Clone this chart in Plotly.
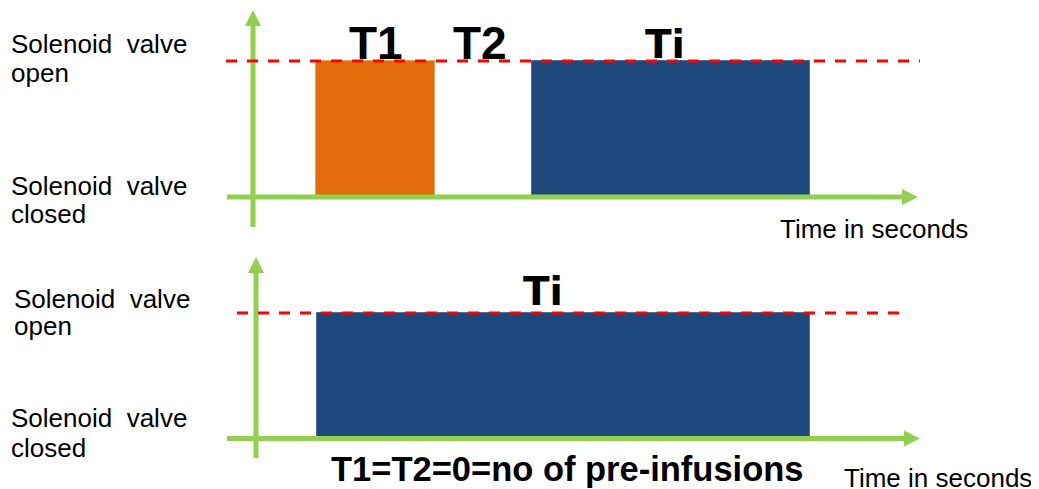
import plotly.graph_objects as go

# The page body adds an 8 px margin; positions below are given in window pixels
OFF = 8
WIN_W, WIN_H = 1039, 489
W, H = WIN_W - OFF, WIN_H - OFF

# ---------------- data (time in seconds, valve state: 0 = closed, 1 = open) ----------------
states = [0, 1]
state_labels = ["Solenoid\u00a0 valve", "closed", "open"]

# upper diagram: pre-infusion T1, pause T2, infusion Ti
top_T1 = [1.575, 4.55]
top_Ti = [6.975, 13.925]
top_time_axis = [-0.65, 16.625]
top_state_axis = [-0.22, 1.375]
top_open_ref = [-0.675, 16.675]

# lower diagram: no pre-infusion, only Ti
bot_Ti = [1.525, 13.85]
bot_time_axis = [-0.725, 16.6]
bot_state_axis = [-0.155, 1.446]
bot_open_ref = [-0.475, 16.325]

labels_top = ["T1", "T2", "Ti"]
label_bottom = "Ti"
note_bottom = "T1=T2=0=no of pre-infusions"
time_title = "Time in seconds"

# ---------------- styling ----------------
GREEN = "#92D050"
RED = "#FF0000"
ORANGE = "#E36C0A"
BLUE = "#1F497D"
FONT = "Liberation Sans, Arial, sans-serif"
FONT_TI = "DejaVu Sans, Verdana, sans-serif"

PX_PER_S = 40.0
TOP_PX_Y = 136.0
BOT_PX_Y = 125.5
# window-pixel location of each diagram's origin
top_org = (253 - OFF, 197 - OFF)
bot_org = (256 - OFF, 438.5 - OFF)

top_range_x = [-top_org[0] / PX_PER_S, (W - top_org[0]) / PX_PER_S]
bot_range_x = [-bot_org[0] / PX_PER_S, (W - bot_org[0]) / PX_PER_S]
top_range_y = [-(H - top_org[1]) / TOP_PX_Y, top_org[1] / TOP_PX_Y]
bot_range_y = [-(H - bot_org[1]) / BOT_PX_Y, bot_org[1] / BOT_PX_Y]

fig = go.Figure()


def add_panel(xa, ya, bars, colors, time_axis, state_axis, open_ref, px_x, px_y):
    # valve-open periods as bars
    for (s, e), c in zip(bars, colors):
        fig.add_trace(go.Bar(
            x=[(s + e) / 2], y=[states[1]], width=[e - s], base=[states[0]],
            marker=dict(color=c, line=dict(color="#4F6F98" if c == BLUE else "#F0A060", width=1)),
            xaxis=xa, yaxis=ya, showlegend=False, hoverinfo="skip"))
    # axes (green arrows)
    head = 16
    fig.add_trace(go.Scatter(
        x=[time_axis[0], time_axis[1] - head * 0.8 / px_x], y=[states[0], states[0]],
        mode="lines", line=dict(color=GREEN, width=5), xaxis=xa, yaxis=ya,
        showlegend=False, hoverinfo="skip"))
    fig.add_trace(go.Scatter(
        x=[0, 0], y=[state_axis[0], state_axis[1] - head * 0.8 / px_y],
        mode="lines", line=dict(color=GREEN, width=5), xaxis=xa, yaxis=ya,
        showlegend=False, hoverinfo="skip"))
    fig.add_trace(go.Scatter(
        x=[time_axis[1]], y=[states[0]], mode="markers",
        marker=dict(symbol="arrow-right", size=head, color=GREEN, line=dict(width=0)),
        xaxis=xa, yaxis=ya, showlegend=False, hoverinfo="skip"))
    fig.add_trace(go.Scatter(
        x=[0], y=[state_axis[1]], mode="markers",
        marker=dict(symbol="arrow-up", size=head, color=GREEN, line=dict(width=0)),
        xaxis=xa, yaxis=ya, showlegend=False, hoverinfo="skip"))
    # open reference (red dashed)
    fig.add_trace(go.Scatter(
        x=open_ref, y=[states[1], states[1]], mode="lines",
        line=dict(color=RED, width=3, dash="11px,10px"),
        xaxis=xa, yaxis=ya, showlegend=False, hoverinfo="skip"))


add_panel("x", "y", [top_T1, top_Ti], [ORANGE, BLUE], top_time_axis, top_state_axis,
          top_open_ref, PX_PER_S, TOP_PX_Y)
add_panel("x2", "y2", [bot_Ti], [BLUE], bot_time_axis, bot_state_axis,
          bot_open_ref, PX_PER_S, BOT_PX_Y)


def py(p):
    return 1 - (p - OFF) / H


def px(p):
    return (p - OFF) / W


ann = []


def txt(text, x, y, size, xanchor="left", bold=False, font=FONT, xref="paper"):
    ann.append(dict(text=f"<b>{text}</b>" if bold else text, x=x, y=py(y), xref=xref, yref="paper",
                    xanchor=xanchor, yanchor="middle", showarrow=False,
                    font=dict(family=font, size=size, color="#000000")))


LS = 26
# left-hand state labels
txt(state_labels[0], px(9), 44.3, LS)
txt(state_labels[2], px(9), 73.3, LS)
txt(state_labels[0], px(9), 186, LS)
txt(state_labels[1], px(9), 214, LS)
txt(state_labels[0], px(12), 299, LS)
txt(state_labels[2], px(12), 326, LS)
txt(state_labels[0], px(9), 418, LS)
txt(state_labels[1], px(9), 448, LS)

# time titles
txt(time_title, px(778), 229, LS)
txt(time_title, px(842), 478, LS)

# period labels
txt(labels_top[0], (top_T1[0] + top_T1[1]) / 2, 43, 46, "center", True, xref="x")
txt(labels_top[1], (top_T1[1] + top_Ti[0]) / 2 - 0.09, 43, 46, "center", True, xref="x")
txt(labels_top[2], (top_Ti[0] + top_Ti[1]) / 2 - 0.15, 44, 39, "center", True, FONT_TI, xref="x")
txt(label_bottom, 7.175, 291.5, 39, "center", True, FONT_TI, xref="x2")
txt(note_bottom, px(567.5), 468.5, 34.5, "center", True)

ax_common = dict(visible=False, showgrid=False, zeroline=False, fixedrange=True)
fig.update_layout(
    width=W, height=H, margin=dict(l=0, r=0, t=0, b=0),
    paper_bgcolor="white", plot_bgcolor="rgba(0,0,0,0)",
    barmode="overlay", bargap=0, showlegend=False,
    xaxis=dict(domain=[0, 1], range=top_range_x, anchor="y", **ax_common),
    yaxis=dict(domain=[0, 1], range=top_range_y, anchor="x", **ax_common),
    xaxis2=dict(domain=[0, 1], range=bot_range_x, anchor="y2", overlaying="x", **ax_common),
    yaxis2=dict(domain=[0, 1], range=bot_range_y, anchor="x2", overlaying="y", **ax_common),
    annotations=ann,
)

fig.write_html("out.html")
